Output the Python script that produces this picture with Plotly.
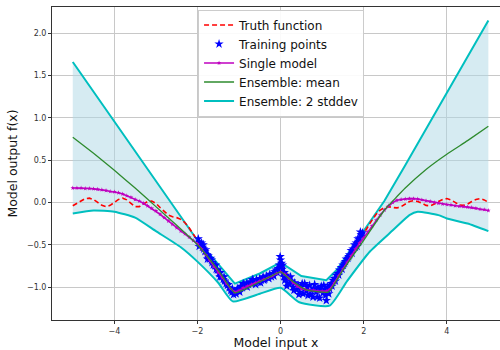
import plotly.graph_objects as go

# ---------------- data ----------------
grid_x = [round(-5 + 0.1 * i, 1) for i in range(101)]

truth_y = [
    -0.04, -0.01, 0.02, 0.045, 0.05, 0.035, 0.0, -0.035, -0.05, -0.035,
    0.0, 0.035, 0.05, 0.03, -0.01, -0.05, -0.05, -0.02, 0.01, 0.015,
    -0.01, -0.06, -0.11, -0.15, -0.17, -0.18, -0.20, -0.24, -0.30, -0.37,
    -0.45, -0.53, -0.60, -0.67, -0.74, -0.81, -0.88, -0.95, -1.01, -1.05,
    -1.02, -0.99, -0.97, -0.95, -0.93, -0.91, -0.89, -0.87, -0.84, -0.79,
    -0.72, -0.80, -0.88, -0.94, -0.98, -1.01, -1.03, -1.04, -1.05, -1.05,
    -1.05, -1.05, -1.00, -0.92, -0.84, -0.76, -0.68, -0.60, -0.52, -0.44,
    -0.37, -0.29, -0.21, -0.14, -0.09, -0.06, -0.05, -0.06, -0.065, -0.05,
    -0.02, 0.01, 0.02, 0.01, -0.01, -0.035, -0.04, -0.02, 0.01, 0.035,
    0.045, 0.03, 0.0, -0.03, -0.035, -0.02, 0.01, 0.035, 0.045, 0.03,
    0.0,
]

single_y = [
    0.17, 0.17, 0.17, 0.165, 0.165, 0.16, 0.155, 0.15, 0.14, 0.13,
    0.125, 0.115, 0.10, 0.08, 0.06, 0.035, 0.015, -0.01, -0.04, -0.07,
    -0.10, -0.14, -0.18, -0.22, -0.26, -0.30, -0.34, -0.37, -0.41, -0.45,
    -0.49, -0.55, -0.62, -0.69, -0.76, -0.83, -0.89, -0.96, -1.02, -1.06,
    -1.04, -1.01, -0.99, -0.97, -0.95, -0.93, -0.91, -0.89, -0.87, -0.84,
    -0.82, -0.85, -0.90, -0.95, -0.99, -1.02, -1.03, -1.04, -1.04, -1.05,
    -1.05, -1.05, -1.02, -0.95, -0.87, -0.79, -0.71, -0.63, -0.55, -0.48,
    -0.42, -0.35, -0.28, -0.21, -0.15, -0.09, -0.04, 0.0, 0.025, 0.035,
    0.04, 0.045, 0.045, 0.04, 0.03, 0.02, 0.01, 0.0, -0.01, -0.02,
    -0.025, -0.03, -0.04, -0.045, -0.05, -0.055, -0.06, -0.07, -0.08, -0.085,
    -0.095,
]

mean_x = [-5.0, -4.5, -4.0, -3.5, -3.0, -2.5, -2.0, -1.5, -1.1, -0.5, 0.0, 0.2, 0.6,
          1.15, 1.5, 2.0, 2.5, 3.0, 3.5, 4.0, 4.5, 5.0]
mean_y = [0.77, 0.58, 0.38, 0.17, -0.05, -0.27, -0.50, -0.80, -1.07, -0.94, -0.82, -0.90, -1.03,
          -1.06, -0.80, -0.45, -0.09, 0.17, 0.39, 0.57, 0.73, 0.90]

upper_x = [-5.0, -4.0, -3.0, -2.4, -2.0, -1.5, -1.1, -0.5, 0.0, 0.5, 1.1, 1.35, 2.0,
           2.5, 3.0, 4.0, 5.0]
upper_y = [1.66, 0.96, 0.26, -0.16, -0.45, -0.73, -0.96, -0.84, -0.71, -0.87, -0.92, -0.80, -0.33,
           0.02, 0.44, 1.29, 2.15]

lower_x = [-5.0, -4.5, -4.0, -3.5, -3.0, -2.4, -2.0, -1.5, -1.15, -0.5, 0.0, 0.45, 1.18,
           1.6, 2.15, 2.7, 3.1, 3.3, 3.8, 4.0, 4.5, 5.0]
lower_y = [-0.13, -0.095, -0.11, -0.18, -0.34, -0.53, -0.70, -0.95, -1.17, -1.08, -1.01, -1.18, -1.22,
           -0.93, -0.58, -0.33, -0.15, -0.11, -0.15, -0.19, -0.25, -0.34]

train_x = [
    -1.98, -1.95, -1.93, -1.90, -1.88, -1.85, -1.82, -1.80, -1.77, -1.74, -1.71, -1.68, -1.65,
    -1.62, -1.58, -1.55, -1.52, -1.48, -1.45, -1.42, -1.38, -1.35, -1.31, -1.28, -1.24, -1.20,
    -1.17, -1.13, -1.10, -1.07, -1.03, -1.00, -0.96, -0.92, -0.88, -0.85, -0.81, -0.77, -0.73,
    -0.70, -0.66, -0.62, -0.58, -0.54, -0.50, -0.46, -0.42, -0.38, -0.34, -0.30, -0.26, -0.22,
    -0.18, -0.14, -0.10, -0.06, -0.03, 0.00, 0.02, 0.04, 0.06, 0.08, 0.10, 0.13, 0.16, 0.19,
    0.22, 0.26, 0.30, 0.34, 0.38, 0.42, 0.46, 0.50, 0.54, 0.58, 0.62, 0.66, 0.70, 0.74, 0.78,
    0.82, 0.86, 0.90, 0.94, 0.98, 1.02, 1.06, 1.10, 1.13, 1.16, 1.19, 1.22, 1.26, 1.30, 1.34,
    1.38, 1.42, 1.46, 1.50, 1.54, 1.58, 1.62, 1.66, 1.70, 1.74, 1.78, 1.82, 1.86, 1.90, 1.94,
    1.97,
    -1.96, -1.86, -1.76, -1.66, -1.56, -1.46, -1.36, -1.26, -1.16, -1.06, -0.98, -0.90, -0.80,
    -0.68, -0.60, -0.48, -0.40, -0.28, -0.16, -0.08, -0.01, 0.01, 0.05, 0.09, 0.15, 0.24, 0.32,
    0.44, 0.52, 0.64, 0.72, 0.80, 0.88, 0.96, 1.04, 1.08, 1.14, 1.18, 1.24, 1.32, 1.40, 1.48,
    1.56, 1.64, 1.72, 1.80, 1.88, 1.96, 1.92, 1.84,
]
train_y = [
    -0.43, -0.47, -0.50, -0.48, -0.53, -0.55, -0.58, -0.56, -0.62, -0.63, -0.67, -0.66, -0.71,
    -0.74, -0.75, -0.79, -0.80, -0.84, -0.83, -0.88, -0.91, -0.93, -0.96, -0.98, -1.01, -1.04,
    -1.06, -1.09, -1.05, -1.08, -1.02, -1.04, -0.99, -1.01, -0.97, -0.99, -0.95, -0.97, -0.94,
    -0.96, -0.92, -0.95, -0.91, -0.94, -0.90, -0.92, -0.88, -0.91, -0.87, -0.89, -0.85, -0.88,
    -0.84, -0.82, -0.80, -0.78, -0.74, -0.68, -0.72, -0.79, -0.84, -0.88, -0.92, -0.86, -0.95,
    -0.90, -0.97, -0.93, -1.00, -0.95, -1.03, -0.98, -1.06, -1.00, -1.08, -0.96, -1.05, -1.10,
    -0.98, -1.04, -1.12, -0.97, -1.06, -1.01, -1.13, -0.99, -1.07, -1.03, -1.16, -1.00, -1.08,
    -0.98, -0.96, -0.92, -0.90, -0.86, -0.84, -0.80, -0.77, -0.74, -0.72, -0.67, -0.66, -0.62,
    -0.57, -0.55, -0.50, -0.48, -0.43, -0.42, -0.38, -0.36,
    -0.52, -0.50, -0.67, -0.68, -0.74, -0.88, -0.88, -0.97, -1.02, -1.04, -1.06, -0.96, -1.00,
    -0.91, -0.97, -0.95, -0.92, -0.90, -0.87, -0.83, -0.64, -0.76, -0.74, -0.83, -0.99, -0.88,
    -1.04, -1.09, -0.96, -1.00, -1.09, -1.02, -1.12, -1.04, -0.98, -1.10, -1.05, -1.02, -0.99,
    -0.93, -0.86, -0.79, -0.70, -0.64, -0.60, -0.53, -0.46, -0.40, -0.35, -0.52,
]

x_ticks = [-4, -2, 0, 2, 4]
y_ticks = [-1.0, -0.5, 0.0, 0.5, 1.0, 1.5, 2.0]

# ---------------- figure ----------------
FONT = "DejaVu Sans"
fig = go.Figure()

fig.add_trace(go.Scatter(
    x=upper_x + lower_x[::-1], y=upper_y + lower_y[::-1],
    fill="toself", fillcolor="rgba(173,216,230,0.5)",
    line=dict(width=0), mode="lines", showlegend=False, hoverinfo="skip"))

fig.add_trace(go.Scatter(x=lower_x, y=lower_y, mode="lines",
                         line=dict(color="#00bfbf", width=2, shape="spline", smoothing=0.5),
                         showlegend=False))
fig.add_trace(go.Scatter(x=upper_x, y=upper_y, mode="lines", name="Ensemble: 2 stddev",
                         line=dict(color="#00bfbf", width=2), legendrank=5))

fig.add_trace(go.Scatter(x=grid_x, y=truth_y, mode="lines", name="Truth function",
                         line=dict(color="#ff0000", width=1.6, dash="5px,3px"), legendrank=1))

fig.add_trace(go.Scatter(x=train_x, y=train_y, mode="markers", name="Training points",
                         marker=dict(symbol="star", color="#0000ff", size=7, line=dict(width=0)),
                         legendrank=2))

fig.add_trace(go.Scatter(x=grid_x, y=single_y, mode="lines+markers", name="Single model",
                         line=dict(color="#bf00bf", width=1.6),
                         marker=dict(symbol="star", color="#bf00bf", size=3.5, line=dict(width=0)),
                         legendrank=3))

fig.add_trace(go.Scatter(x=mean_x, y=mean_y, mode="lines", name="Ensemble: mean",
                         line=dict(color="#2e8b2e", width=1.3, shape="spline", smoothing=0.4),
                         legendrank=4))

fig.update_layout(
    width=500, height=350,
    margin=dict(l=52, r=0, t=7, b=30),
    plot_bgcolor="white", paper_bgcolor="white",
    font=dict(family=FONT, color="#222"),
    legend=dict(x=0.326, y=0.992, xanchor="left", yanchor="top",
                bgcolor="rgba(255,255,255,0.9)", bordercolor="#cccccc", borderwidth=1,
                font=dict(size=12, family=FONT, color="#111"),
                tracegroupgap=0),
    showlegend=True,
)

fig.update_xaxes(range=[-5.5, 5.28], tickvals=x_ticks, ticktext=[f"{v:d}".replace("-", "\u2212") for v in x_ticks],
                 showgrid=True, gridcolor="#c8c8c8", gridwidth=1,
                 showline=True, linecolor="#333", linewidth=1, mirror=True,
                 ticks="outside", ticklen=3, tickcolor="#333",
                 tickfont=dict(size=8, family=FONT, color="#333"),
                 zeroline=False,
                 title=dict(text="Model input x", font=dict(size=12.5, family=FONT, color="#111"), standoff=4))
fig.update_yaxes(range=[-1.39, 2.31], tickvals=y_ticks, ticktext=[f"{v:.1f}".replace("-", "\u2212") for v in y_ticks],
                 showgrid=True, gridcolor="#c8c8c8", gridwidth=1,
                 showline=True, linecolor="#333", linewidth=1, mirror=False,
                 ticks="outside", ticklen=3, tickcolor="#333",
                 tickfont=dict(size=8, family=FONT, color="#333"),
                 zeroline=False,
                 title=dict(text="Model output f(x)", font=dict(size=12.5, family=FONT, color="#111"), standoff=6))

fig.write_html("out.html")
